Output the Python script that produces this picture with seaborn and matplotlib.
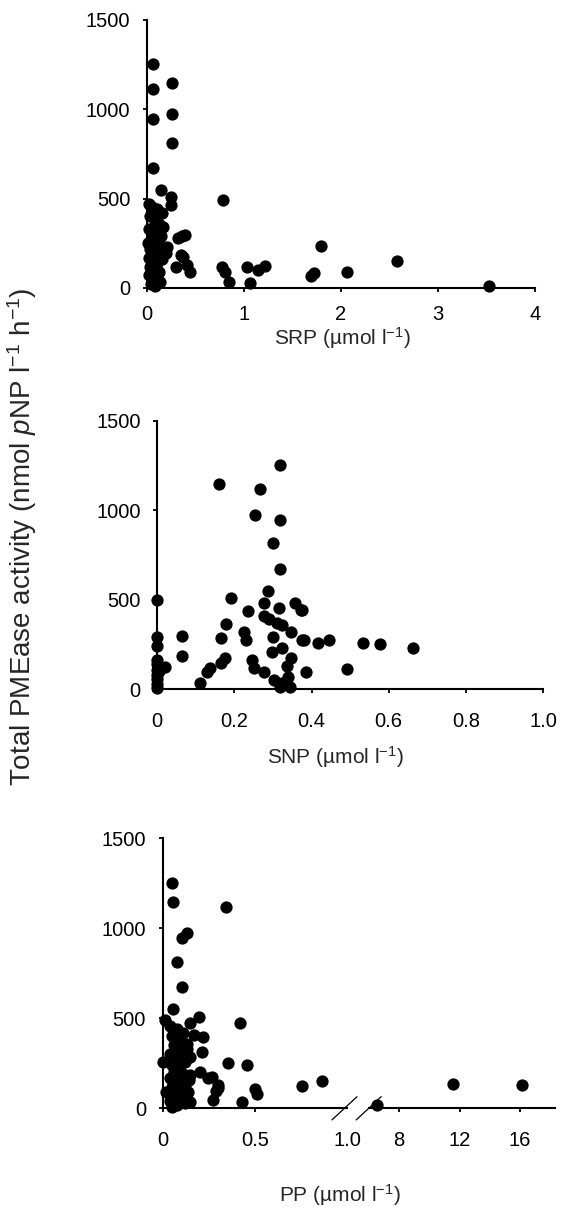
import seaborn as sns
import matplotlib.pyplot as plt
import pandas as pd

sns.set_theme(style="ticks")
plt.rcParams['font.family'] = ['Liberation Sans', 'DejaVu Sans']
plt.rcParams['mathtext.fontset'] = 'custom'
plt.rcParams['mathtext.rm'] = 'Liberation Sans'
plt.rcParams['mathtext.it'] = 'Liberation Sans:italic'

# SRP panel
srp_x = [0.06, 0.06, 0.26, 0.06, 0.26, 0.26, 0.06, 0.14, 0.25, 0.25, 0.78,
         0.39, 0.32, 0.36, 0.35, 0.30, 0.44, 0.41, 0.20, 0.77, 0.80, 0.85,
         1.03, 1.14, 1.22, 1.06, 1.79, 1.69, 1.72, 2.06, 2.58, 3.53, 0.13,
         0.37, 0.21,
         0.02, 0.05, 0.10, 0.15, 0.03, 0.08, 0.12, 0.17, 0.02, 0.06, 0.10,
         0.14, 0.04, 0.09, 0.13, 0.03, 0.07, 0.11, 0.02, 0.06, 0.10, 0.15,
         0.03, 0.08, 0.12, 0.02, 0.06, 0.10, 0.04, 0.08, 0.01, 0.16]
srp_y = [1252, 1113, 1147, 942, 970, 812, 671, 546, 509, 463, 490,
         295, 277, 290, 184, 119, 91, 128, 193, 119, 91, 35,
         119, 100, 123, 30, 236, 67, 82, 91, 150, 11, 35,
         175, 230,
         470, 450, 440, 420, 400, 380, 360, 340, 330, 310, 300,
         290, 270, 250, 240, 220, 200, 190, 170, 150, 140, 160,
         120, 100, 90, 70, 50, 40, 20, 10, 250, 200]

# SNP panel
snp_x = [0.317, 0.159, 0.265, 0.253, 0.317, 0.300, 0.317, 0.287, 0.190,
         0.236, 0.276, 0.276, 0.316, 0.357, 0.372, 0.177, 0.164, 0.224,
         0.229, 0.064, 0.064, 0.175, 0.164, 0.137, 0.128, 0.111, 0.246,
         0.250, 0.276, 0.298, 0.324, 0.346, 0.385, 0.300, 0.346, 0.376,
         0.324, 0.290, 0.310, 0.416, 0.444, 0.302, 0.324, 0.340, 0.337,
         0.317, 0.345, 0.381, 0.533, 0.578, 0.663, 0.491, 0.376,
         0.0, 0.0, 0.0, 0.0, 0.0, 0.0, 0.0, 0.0, 0.0, 0.0, 0.02, 0.005]
snp_y = [1250, 1148, 1116, 975, 947, 817, 674, 550, 507,
         438, 479, 410, 451, 479, 442, 364, 284, 321,
         275, 297, 186, 173, 145, 117, 95, 33, 163,
         117, 98, 210, 228, 173, 98, 293, 321, 275,
         360, 390, 370, 256, 275, 52, 33, 70, 130,
         15, 15, 275, 256, 251, 228, 111, 442,
         498, 293, 240, 165, 140, 110, 80, 55, 30, 10, 126, 100]

# PP panel (broken axis: 0-1.0 and 6-18)
pp_x = [0.052, 0.057, 0.343, 0.133, 0.103, 0.076, 0.103, 0.057, 0.198,
        0.012, 0.418, 0.22, 0.211, 0.355, 0.458, 0.265, 0.301, 0.274,
        0.428, 0.50, 0.51, 0.0, 0.148, 0.17, 0.13, 0.148, 0.14, 0.139,
        0.148, 0.20, 0.15, 0.756, 0.861, 0.30, 0.29, 0.245,
        0.04, 0.08, 0.11, 0.05, 0.09, 0.13, 0.06, 0.10, 0.04, 0.08, 0.12,
        0.05, 0.09, 0.06, 0.11, 0.04, 0.08, 0.12, 0.05, 0.09, 0.06, 0.10,
        0.04, 0.08, 0.05, 0.12, 0.02,
        6.53, 11.58, 16.1]
pp_y = [1253, 1148, 1120, 972, 944, 815, 676, 550, 509,
        490, 476, 398, 311, 252, 240, 176, 111, 46,
        37, 110, 80, 259, 474, 410, 330, 287, 155, 92,
        37, 203, 183, 124, 153, 130, 95, 170,
        460, 440, 420, 400, 380, 360, 350, 320, 300, 280, 260,
        240, 220, 200, 190, 170, 150, 130, 120, 100, 80, 60,
        40, 20, 5, 30, 90,
        18, 133, 128]

yticks = [0, 500, 1000, 1500]

W, H = 561, 1214
fig = plt.figure(figsize=(W / 100, H / 100), dpi=100)


def box(l, r, t, b):
    return [l / W, 1 - b / H, (r - l) / W, (b - t) / H]


ax1 = fig.add_axes(box(147, 535, 19.6, 288))
ax2 = fig.add_axes(box(157.3, 543, 420.5, 689.3))
ax3 = fig.add_axes(box(162.7, 347.4, 838.3, 1108.3))
ax4 = fig.add_axes(box(368.7, 555, 838.3, 1108.3))

dot = dict(color='black', s=78, linewidth=0, clip_on=False, zorder=3)

sns.scatterplot(x=srp_x, y=srp_y, ax=ax1, **dot)
sns.scatterplot(x=snp_x, y=snp_y, ax=ax2, **dot)
pp = pd.DataFrame({'x': pp_x, 'y': pp_y})
sns.scatterplot(data=pp[pp.x < 1], x='x', y='y', ax=ax3, **dot)
sns.scatterplot(data=pp[pp.x >= 1], x='x', y='y', ax=ax4, **dot)

ax1.set_xlim(0, 4)
ax1.set_xticks([0, 1, 2, 3, 4])
ax2.set_xlim(0, 1.0)
ax2.set_xticks([0, 0.2, 0.4, 0.6, 0.8, 1.0])
ax2.set_xticklabels(['0', '0.2', '0.4', '0.6', '0.8', '1.0'])
ax3.set_xlim(0, 1.0)
ax3.set_xticks([0, 0.5, 1.0])
ax3.set_xticklabels(['0', '0.5', '1.0'])
ax3.xaxis.get_major_ticks()[2].tick1line.set_visible(False)
ax4.set_xlim(6, 18.3)
ax4.set_xticks([8, 12, 16])

for ax in (ax1, ax2, ax3, ax4):
    ax.set_ylim(0, 1500)
    ax.set_yticks(yticks)
    sns.despine(ax=ax)
    for sp in ('left', 'bottom'):
        ax.spines[sp].set_linewidth(1.5)
        ax.spines[sp].set_color('black')
    ax.tick_params(direction='out', length=3, width=1.3, colors='black',
                   labelsize=14.5)
    ax.tick_params(axis='y', pad=9)
    ax.set_xlabel('')
    ax.set_ylabel('')

ax1.tick_params(axis='x', pad=9)
ax2.tick_params(axis='x', pad=13)
ax3.tick_params(axis='x', pad=13)
ax4.tick_params(axis='x', pad=13)

ax4.spines['left'].set_visible(False)
ax4.tick_params(axis='y', left=False, labelleft=False)

# axis break marks
kw = dict(color='black', lw=0.9, clip_on=False)
ax3.plot([0.916, 1.052], [-0.043, 0.043], transform=ax3.transAxes, **kw)
ax4.plot([-0.067, 0.067], [-0.043, 0.043], transform=ax4.transAxes, **kw)

ax1.set_xlabel('SRP (µmol l$^{-1}$)', fontsize=15, va='center')
ax1.xaxis.set_label_coords(0.503, -0.185)
ax2.set_xlabel('SNP (µmol l$^{-1}$)', fontsize=15, va='center')
ax2.xaxis.set_label_coords(0.461, -0.252)
ax3.set_xlabel('PP (µmol l$^{-1}$)', fontsize=15, va='center')
ax3.xaxis.set_label_coords(0.96, -0.321)

fig.text(22 / W, 1 - 537 / H,
         'Total PMEase activity (nmol $\\mathit{p}$NP l$^{-1}$ h$^{-1}$)',
         rotation=90, ha='center', va='center', fontsize=20)

fig.savefig('out.png', dpi=100)
